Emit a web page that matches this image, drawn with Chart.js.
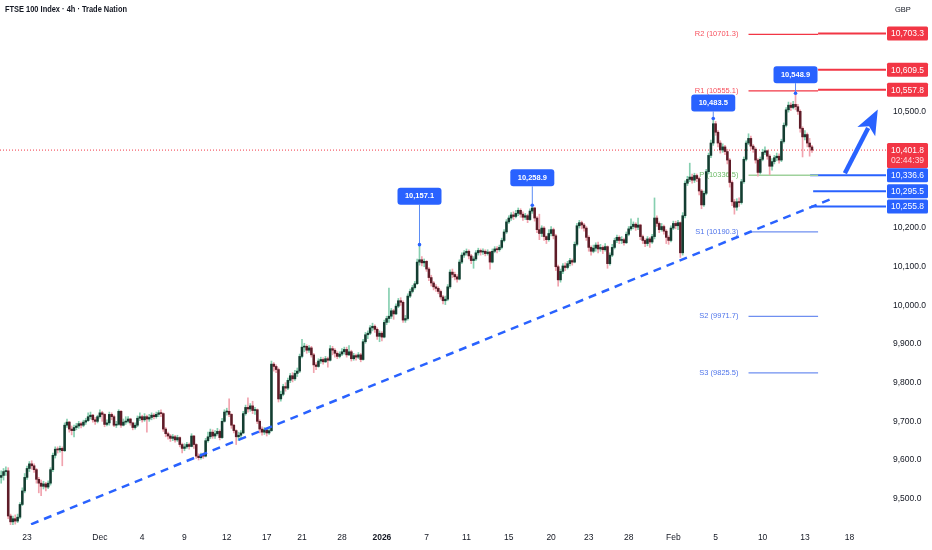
<!DOCTYPE html>
<html>
<head>
<meta charset="utf-8">
<script src="https://cdn.jsdelivr.net/npm/chart.js@4.4.1/dist/chart.umd.min.js"></script>
<style>
  html, body { margin: 0; padding: 0; background: #fff; }
  canvas { display: block; }
</style>
</head>
<body>
<canvas id="chart" width="932" height="550"></canvas>
<script>
// FTSE 100, 4h candles (open = previous close)
const firstOpen = 9555;
const closes = [
  9560, 9570, 9572, 9455, 9440, 9448, 9442, 9452, 9485, 9520,
  9555, 9578, 9590, 9585, 9575, 9550, 9540, 9532, 9538, 9530,
  9540, 9575, 9612, 9628, 9626, 9630, 9624, 9690, 9698, 9680,
  9676, 9684, 9688, 9694, 9690, 9698, 9702, 9712, 9716, 9704,
  9700, 9712, 9722, 9718, 9692, 9696, 9718, 9712, 9690, 9692,
  9726, 9690, 9698, 9700, 9706, 9696, 9684, 9690, 9708, 9712,
  9704, 9712, 9706, 9710, 9716, 9712, 9718, 9722, 9720, 9680,
  9668, 9662, 9656, 9660, 9652, 9658, 9640, 9630, 9634, 9640,
  9635, 9662, 9640, 9610, 9606, 9612, 9610, 9650, 9660, 9672,
  9662, 9668, 9674, 9658, 9700, 9724, 9726, 9718, 9690, 9676,
  9660, 9664, 9670, 9720, 9736, 9732, 9740, 9728, 9730, 9700,
  9680, 9672, 9678, 9670, 9676, 9848, 9842, 9834, 9758, 9770,
  9790, 9786, 9806, 9818, 9810, 9824, 9830, 9868, 9892, 9894,
  9884, 9890, 9872, 9846, 9842, 9856, 9860, 9854, 9862, 9858,
  9888, 9884, 9876, 9868, 9874, 9880, 9886, 9872, 9880, 9862,
  9870, 9866, 9872, 9860, 9906, 9924, 9928, 9942, 9946, 9938,
  9920, 9928, 9918, 9956, 9966, 9972, 9986, 9978, 9998, 10012,
  10008, 9962, 9966, 10024, 10036, 10046, 10056, 10112, 10118, 10110,
  10114, 10094, 10072, 10058, 10048, 10044, 10036, 10022, 10012, 10016,
  10048, 10086, 10080, 10074, 10068, 10112, 10130, 10136, 10140, 10128,
  10116, 10120, 10136, 10142, 10138, 10140, 10134, 10138, 10112, 10140,
  10146, 10144, 10150, 10168, 10190, 10216, 10226, 10234, 10230, 10238,
  10246, 10236, 10228, 10232, 10222, 10244, 10252, 10226, 10196, 10186,
  10200, 10178, 10170, 10186, 10196, 10180, 10100, 10066, 10088, 10102,
  10098, 10108, 10116, 10112, 10158, 10206, 10214, 10208, 10200, 10176,
  10150, 10140, 10148, 10156, 10146, 10150, 10144, 10152, 10108, 10130,
  10150, 10168, 10176, 10168, 10170, 10162, 10184, 10198, 10204, 10210,
  10202, 10208, 10178, 10168, 10160, 10172, 10164, 10178, 10226, 10212,
  10196, 10204, 10192, 10176, 10168, 10200, 10212, 10206, 10214, 10136,
  10232, 10316, 10326, 10332, 10324, 10336, 10328, 10296, 10260, 10290,
  10346, 10388, 10420, 10470, 10448, 10420, 10402, 10410, 10398, 10376,
  10318, 10268, 10254, 10268, 10266, 10320, 10378, 10420, 10432, 10412,
  10404, 10376, 10344, 10378, 10396, 10400, 10386, 10360, 10372, 10382,
  10386, 10376, 10424, 10466, 10506, 10518, 10512, 10520, 10514, 10502,
  10458, 10436, 10442, 10420, 10410, 10401.8
];
const highs = [
  9572, 9578, 9582, 9580, 9460, 9455, 9458, 9460, 9490, 9528,
  9565, 9584, 9596, 9598, 9590, 9578, 9555, 9548, 9545, 9542,
  9546, 9580, 9618, 9634, 9634, 9636, 9634, 9696, 9706, 9700,
  9688, 9690, 9695, 9700, 9698, 9703, 9708, 9722, 9724, 9718,
  9710, 9716, 9730, 9726, 9720, 9704, 9724, 9722, 9716, 9700,
  9730, 9728, 9706, 9712, 9712, 9708, 9698, 9696, 9714, 9722,
  9716, 9720, 9716, 9718, 9722, 9720, 9724, 9728, 9730, 9722,
  9684, 9672, 9666, 9666, 9664, 9664, 9660, 9644, 9642, 9646,
  9644, 9668, 9664, 9642, 9616, 9618, 9618, 9656, 9672, 9680,
  9678, 9676, 9682, 9678, 9708, 9730, 9734, 9758, 9720, 9692,
  9678, 9672, 9676, 9726, 9742, 9761, 9746, 9752, 9736, 9732,
  9704, 9686, 9684, 9680, 9684, 9856, 9852, 9846, 9838, 9778,
  9796, 9800, 9812, 9824, 9826, 9832, 9838, 9874, 9912, 9902,
  9898, 9896, 9894, 9876, 9852, 9862, 9866, 9864, 9868, 9866,
  9896, 9894, 9888, 9880, 9880, 9888, 9892, 9892, 9896, 9884,
  9876, 9874, 9878, 9876, 9912, 9930, 9934, 9948, 9954, 9950,
  9942, 9934, 9932, 9962, 9972, 10045, 9992, 9990, 10004, 10018,
  10020, 10012, 9974, 10030, 10042, 10052, 10062, 10120, 10157.1, 10126,
  10120, 10116, 10098, 10078, 10062, 10054, 10048, 10040, 10026, 10024,
  10054, 10092, 10094, 10086, 10080, 10118, 10136, 10142, 10146, 10144,
  10132, 10126, 10142, 10148, 10146, 10146, 10144, 10144, 10140, 10146,
  10152, 10152, 10156, 10174, 10196, 10222, 10232, 10240, 10242, 10246,
  10252, 10250, 10242, 10238, 10236, 10250, 10258.9, 10254, 10230, 10236,
  10206, 10204, 10180, 10196, 10204, 10200, 10184, 10104, 10094, 10108,
  10110, 10114, 10122, 10120, 10164, 10212, 10220, 10218, 10212, 10204,
  10180, 10154, 10156, 10162, 10164, 10158, 10154, 10160, 10154, 10136,
  10158, 10174, 10182, 10180, 10178, 10174, 10190, 10204, 10224, 10216,
  10214, 10226, 10210, 10182, 10172, 10178, 10176, 10184, 10278, 10232,
  10216, 10212, 10208, 10196, 10180, 10206, 10218, 10218, 10220, 10216,
  10240, 10322, 10334, 10368, 10340, 10342, 10340, 10332, 10300, 10296,
  10352, 10394, 10428, 10483.5, 10476, 10452, 10426, 10418, 10414, 10404,
  10380, 10322, 10274, 10276, 10278, 10326, 10384, 10426, 10444, 10438,
  10416, 10408, 10380, 10384, 10404, 10410, 10402, 10390, 10380, 10388,
  10394, 10392, 10430, 10472, 10512, 10526, 10524, 10528, 10548.9, 10520,
  10506, 10462, 10452, 10446, 10432, 10414
];
const lows = [
  9540, 9548, 9560, 9448, 9432, 9430, 9434, 9438, 9448, 9482,
  9515, 9550, 9570, 9576, 9568, 9540, 9515, 9508, 9525, 9520,
  9526, 9535, 9570, 9605, 9618, 9620, 9585, 9622, 9684, 9672,
  9665, 9660, 9678, 9682, 9683, 9686, 9692, 9700, 9706, 9698,
  9692, 9696, 9708, 9700, 9686, 9688, 9690, 9704, 9686, 9684,
  9690, 9684, 9688, 9692, 9696, 9690, 9678, 9680, 9686, 9702,
  9698, 9700, 9672, 9700, 9704, 9706, 9708, 9712, 9712, 9674,
  9660, 9654, 9648, 9650, 9646, 9648, 9634, 9618, 9624, 9630,
  9628, 9634, 9630, 9604, 9600, 9602, 9604, 9608, 9646, 9655,
  9656, 9656, 9664, 9652, 9656, 9698, 9716, 9712, 9682, 9670,
  9640, 9650, 9656, 9668, 9716, 9724, 9726, 9720, 9718, 9694,
  9670, 9664, 9666, 9662, 9666, 9674, 9830, 9826, 9750, 9752,
  9766, 9778, 9782, 9800, 9802, 9806, 9816, 9826, 9864, 9880,
  9876, 9878, 9866, 9826, 9834, 9840, 9850, 9848, 9852, 9840,
  9856, 9872, 9866, 9862, 9864, 9870, 9874, 9866, 9870, 9856,
  9858, 9858, 9862, 9854, 9858, 9902, 9914, 9924, 9934, 9930,
  9912, 9906, 9908, 9916, 9950, 9956, 9966, 9964, 9976, 9994,
  10000, 9956, 9956, 9962, 10020, 10032, 10042, 10054, 10104, 10102,
  10100, 10088, 10064, 10050, 10040, 10036, 10030, 10016, 10004, 10002,
  10012, 10044, 10072, 10066, 10060, 10066, 10108, 10124, 10130, 10120,
  10108, 10096, 10116, 10130, 10130, 10132, 10128, 10130, 10094, 10110,
  10136, 10136, 10140, 10146, 10164, 10186, 10212, 10220, 10222, 10226,
  10232, 10228, 10220, 10222, 10214, 10220, 10238, 10218, 10188, 10170,
  10178, 10168, 10160, 10166, 10180, 10172, 10090, 10050, 10060, 10082,
  10090, 10094, 10102, 10104, 10110, 10154, 10200, 10198, 10192, 10168,
  10140, 10130, 10136, 10140, 10136, 10140, 10134, 10140, 10096, 10104,
  10126, 10146, 10162, 10160, 10160, 10156, 10160, 10180, 10194, 10198,
  10194, 10196, 10170, 10160, 10152, 10154, 10150, 10160, 10172, 10204,
  10188, 10192, 10184, 10160, 10158, 10164, 10196, 10198, 10196, 10124,
  10130, 10226, 10310, 10320, 10316, 10318, 10320, 10286, 10250, 10256,
  10286, 10340, 10382, 10414, 10440, 10410, 10394, 10396, 10390, 10366,
  10306, 10258, 10236, 10246, 10256, 10262, 10316, 10374, 10416, 10404,
  10396, 10368, 10334, 10340, 10374, 10390, 10378, 10338, 10350, 10366,
  10374, 10368, 10372, 10420, 10462, 10500, 10504, 10508, 10506, 10494,
  10448, 10384, 10428, 10410, 10386, 10396
];

// time axis labels (candle index -> text)
const tickIdx = [11, 42, 60, 78, 96, 113, 128, 145, 162, 181, 198, 216, 234, 250, 267, 286, 304, 324, 342, 361];
const tickText = ['23', 'Dec', '4', '9', '12', '17', '21', '28', '2026', '7', '11', '15', '20', '23', '28', 'Feb', '5', '10', '13', '18'];
const priceTicks = [9500, 9600, 9700, 9800, 9900, 10000, 10100, 10200, 10500];

// pivot points
const pivotNames = ['R2', 'R1', 'P', 'S1', 'S2', 'S3'];
const pivotVals = [10701.3, 10555.1, 10336.5, 10190.3, 9971.7, 9825.5];
const pivotFrom = 318, pivotTo = 347.6;

// horizontal levels with price tags on the axis
const levelVals = [10703.3, 10609.5, 10557.8, 10336.6, 10295.5, 10255.8];
const levelSide = ['r', 'r', 'r', 'b', 'b', 'b'];
const levelFrom = [347.6, 347.6, 347.6, 344.2, 345.5, 344.6];

const lastPrice = 10401.8;
const countdown = '02:44:39';

// swing-high callouts
const peakIdx = [178, 226, 303, 338];
const peakVals = [10157.1, 10258.9, 10483.5, 10548.9];
const peakGap = [40, 19, 7, 10];

// trend line and projection arrow (index, price)
const trendX = [7.2, 353];
const trendY = [9420, 10275];
const arrowX = [359, 373];
const arrowY = [10342, 10507];

const X_MAX = 376.5;
const FONT = '"Liberation Sans", Arial, sans-serif';
const RED = '#f23645';
const BLUE = '#2962ff';
const UP_BODY = '#143d31', UP_WICK = '#86cfb0';
const DN_BODY = '#5e1c28', DN_WICK = '#f1a3ae';

const opens = closes.map((c, i) => (i ? closes[i - 1] : firstOpen));
const isUp = closes.map((c, i) => c >= opens[i]);

function hline(y, x0, x1, color, width, dash, order) {
  return {
    type: 'line',
    data: [{ x: x0, y: y }, { x: x1, y: y }],
    borderColor: color,
    borderWidth: width,
    borderDash: dash || [],
    pointRadius: 0,
    order: order
  };
}

const pivotColor = n => (n[0] === 'R' ? RED : n[0] === 'P' ? '#9fd19c' : '#6f8ff0');
const pivotText = n => (n[0] === 'R' ? '#f7525f' : n[0] === 'P' ? '#6dbb69' : '#4f74ea');

const datasets = [
  {
    type: 'bar',
    data: closes.map((c, i) => ({ x: i, y: [opens[i], c] })),
    backgroundColor: isUp.map(u => (u ? UP_BODY : DN_BODY)),
    barThickness: 1.9,
    minBarLength: 1,
    grouped: false,
    order: 1
  },
  {
    type: 'bar',
    data: closes.map((c, i) => ({
      x: i,
      y: [Math.min(lows[i], opens[i], c), Math.max(highs[i], opens[i], c)]
    })),
    backgroundColor: isUp.map(u => (u ? UP_WICK : DN_WICK)),
    barThickness: 1,
    grouped: false,
    order: 2
  },
  {
    type: 'line',
    data: [{ x: trendX[0], y: trendY[0] }, { x: trendX[1], y: trendY[1] }],
    borderColor: BLUE,
    borderWidth: 2.5,
    borderDash: [8, 6],
    pointRadius: 0,
    order: 0
  },
  hline(lastPrice, -0.5, X_MAX, RED, 1, [1, 2], 4)
];
pivotVals.forEach((v, k) => {
  datasets.push(hline(v, pivotFrom, pivotTo, pivotColor(pivotNames[k]), pivotNames[k] === 'P' ? 1.6 : 1.3, null, 3));
});
levelVals.forEach((v, k) => {
  datasets.push(hline(v, levelFrom[k], X_MAX, levelSide[k] === 'r' ? RED : BLUE, 2, null, 3));
});

function roundRect(ctx, x, y, w, h, r) {
  ctx.beginPath();
  ctx.moveTo(x + r, y);
  ctx.arcTo(x + w, y, x + w, y + h, r);
  ctx.arcTo(x + w, y + h, x, y + h, r);
  ctx.arcTo(x, y + h, x, y, r);
  ctx.arcTo(x, y, x + w, y, r);
  ctx.closePath();
}

const fmt = v => v.toLocaleString('en-US', { minimumFractionDigits: 1, maximumFractionDigits: 1 });

const overlay = {
  id: 'overlay',
  beforeDatasetsDraw(chart) {
    const { ctx, scales: { x, y } } = chart;
    ctx.save();
    ctx.font = '7.5px ' + FONT;
    ctx.textAlign = 'right';
    ctx.textBaseline = 'middle';
    pivotNames.forEach((n, k) => {
      ctx.fillStyle = pivotText(n);
      ctx.fillText(n + ' (' + pivotVals[k] + ')', x.getPixelForValue(pivotFrom) - 10, y.getPixelForValue(pivotVals[k]));
    });
    ctx.restore();
  },
  afterDraw(chart) {
    const { ctx, chartArea: area, scales: { x, y } } = chart;
    ctx.save();

    // arrow
    const ax0 = x.getPixelForValue(arrowX[0]), ay0 = y.getPixelForValue(arrowY[0]);
    const ax1 = x.getPixelForValue(arrowX[1]), ay1 = y.getPixelForValue(arrowY[1]);
    const len = Math.hypot(ax1 - ax0, ay1 - ay0);
    const ux = (ax1 - ax0) / len, uy = (ay1 - ay0) / len;
    const hx = ax1 - ux * 25, hy = ay1 - uy * 25;
    ctx.fillStyle = BLUE;
    ctx.strokeStyle = BLUE;
    ctx.lineWidth = 4.5;
    ctx.beginPath();
    ctx.moveTo(ax0, ay0);
    ctx.lineTo(hx + ux * 4, hy + uy * 4);
    ctx.stroke();
    ctx.beginPath();
    ctx.moveTo(ax1, ay1);
    ctx.lineTo(hx - uy * 10, hy + ux * 10);
    ctx.lineTo(hx + ux * 6, hy + uy * 6);
    ctx.lineTo(hx + uy * 10, hy - ux * 10);
    ctx.closePath();
    ctx.fill();

    // swing-high callouts
    ctx.font = 'bold 7.5px ' + FONT;
    ctx.textAlign = 'center';
    ctx.textBaseline = 'middle';
    peakIdx.forEach((idx, k) => {
      const px = x.getPixelForValue(idx);
      const py = y.getPixelForValue(peakVals[k]);
      const bottom = py - peakGap[k];
      ctx.strokeStyle = '#5b8cf5';
      ctx.lineWidth = 1;
      ctx.beginPath();
      ctx.moveTo(px, bottom);
      ctx.lineTo(px, py);
      ctx.stroke();
      ctx.fillStyle = BLUE;
      ctx.beginPath();
      ctx.arc(px, py, 1.8, 0, Math.PI * 2);
      ctx.fill();
      roundRect(ctx, px - 22, bottom - 17, 44, 17, 3);
      ctx.fill();
      ctx.fillStyle = '#fff';
      ctx.fillText(fmt(peakVals[k]), px, bottom - 8.5);
    });

    // axis price tags
    const bx = area.right + 1, bw = 41;
    ctx.font = '8.5px ' + FONT;
    ctx.textAlign = 'left';
    levelVals.forEach((v, k) => {
      const py = y.getPixelForValue(v);
      ctx.fillStyle = levelSide[k] === 'r' ? RED : BLUE;
      roundRect(ctx, bx, py - 7, bw, 14, 1.5);
      ctx.fill();
      ctx.fillStyle = '#fff';
      ctx.fillText(fmt(v), bx + 4, py + 0.5);
    });
    const lp = y.getPixelForValue(lastPrice);
    ctx.fillStyle = RED;
    roundRect(ctx, bx, lp - 7, bw, 25, 1.5);
    ctx.fill();
    ctx.fillStyle = '#fff';
    ctx.fillText(fmt(lastPrice), bx + 4, lp + 0.5);
    ctx.fillStyle = '#ffd6da';
    ctx.fillText(countdown, bx + 4, lp + 11);

    // header
    ctx.fillStyle = '#131722';
    ctx.font = 'bold 8.5px ' + FONT;
    ctx.textBaseline = 'middle';
    ctx.fillText('FTSE 100 Index · 4h · Trade Nation', 5, 10, 122);
    ctx.font = '7.5px ' + FONT;
    ctx.fillText('GBP', 895, 10);
    ctx.restore();
  }
};

new Chart(document.getElementById('chart'), {
  type: 'bar',
  data: { datasets },
  options: {
    responsive: false,
    animation: false,
    events: [],
    layout: { padding: 0 },
    plugins: { legend: { display: false }, tooltip: { enabled: false } },
    scales: {
      x: {
        type: 'linear',
        min: -0.5,
        max: X_MAX,
        offset: false,
        grid: { display: false, drawTicks: false },
        border: { display: false },
        afterBuildTicks: s => { s.ticks = tickIdx.map(v => ({ value: v })); },
        afterFit: s => { s.height = 25; },
        ticks: {
          autoSkip: false,
          maxRotation: 0,
          padding: 8,
          color: '#131722',
          font: c => ({ family: FONT, size: 8.5, weight: c.tick && c.tick.label === '2026' ? 'bold' : 'normal' }),
          callback: v => { const k = tickIdx.indexOf(v); return k < 0 ? '' : tickText[k]; }
        }
      },
      y: {
        position: 'right',
        min: 9431.8,
        max: 10758.8,
        grid: { display: false, drawTicks: false },
        border: { display: false },
        afterBuildTicks: s => { s.ticks = priceTicks.map(v => ({ value: v })); },
        afterFit: s => { s.width = 46; },
        ticks: {
          padding: 7,
          color: '#131722',
          font: { family: FONT, size: 8.5 },
          callback: v => fmt(v)
        }
      }
    }
  },
  plugins: [overlay]
});
</script>
</body>
</html>
